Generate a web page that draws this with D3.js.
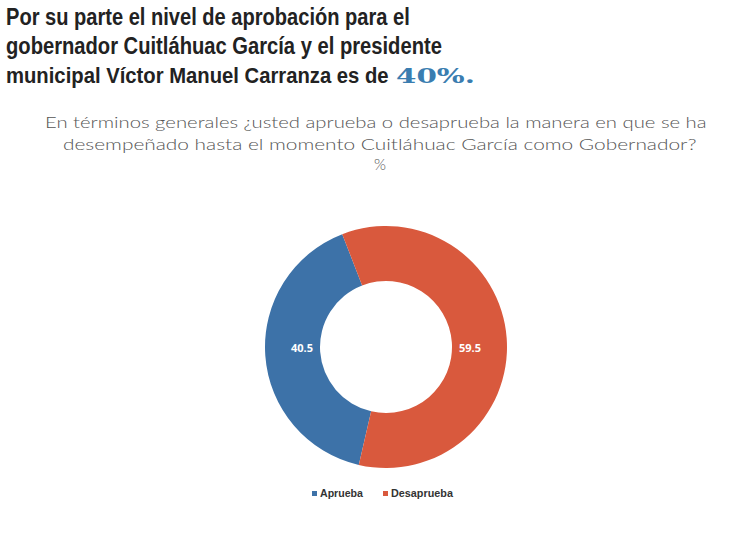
<!DOCTYPE html>
<html><head><meta charset="utf-8">
<script src="https://cdn.jsdelivr.net/npm/d3@7"></script>
<style>body{margin:0;background:#fff}svg{display:block}</style>
</head><body>
<script>
const categories = ["Aprueba", "Desaprueba"];
const values = [40.5, 59.5];
const colors = ["#3D72A8", "#D9593D"];
const titleLines = ["Por su parte el nivel de aprobación para el", "gobernador Cuitláhuac García y el presidente", "municipal Víctor Manuel Carranza es de"];
const highlight = "40%.";
const subtitleLines = ["En términos generales ¿usted aprueba o desaprueba la manera en que se ha", "desempeñado hasta el momento Cuitláhuac García como Gobernador?", "%"];

const W = 732, H = 549;
const svg = d3.select("body").append("svg").attr("width", W).attr("height", H);

// fit a text element horizontally to a target width using a scale transform
function fitWidth(sel, x, y, w) {
  const nat = sel.node().getComputedTextLength();
  sel.attr("x", 0).attr("y", 0)
    .attr("transform", `translate(${x},${y}) scale(${w / nat},1)`);
}

// Title
const tl = [{y: 25, w: 404}, {y: 54, w: 436}, {y: 83, w: 383}];
tl.forEach((d, i) => {
  const t = svg.append("text").text(titleLines[i])
    .attr("font-family", "Liberation Sans Narrow, Liberation Sans, sans-serif")
    .attr("font-weight", "bold")
    .attr("font-size", 23).attr("fill", "#222");
  fitWidth(t, 6, d.y, d.w);
});
const hl = svg.append("text").text(highlight)
  .attr("font-family", "DejaVu Serif, serif").attr("font-weight", "bold")
  .attr("font-size", 21).attr("fill", "#3A7DB0");
fitWidth(hl, 396, 83, 79);

// Subtitle
const sl = [{y: 128, w: 662, x: 376}, {y: 150, w: 634, x: 380}, {y: 170, w: 12, x: 380}];
sl.forEach((d, i) => {
  const t = svg.append("text").text(subtitleLines[i])
    .attr("font-family", "Lato, sans-serif").attr("font-weight", 300)
    .attr("font-size", 15).attr("fill", "#555");
  fitWidth(t, d.x - d.w / 2, d.y, d.w);
});

// Donut
const cx = 386, cy = 347, rOut = 121, rIn = 66;
const start = 193 * Math.PI / 180;
const pie = d3.pie().sort(null).startAngle(start).endAngle(start + 2 * Math.PI);
const arcs = pie(values);
const arc = d3.arc().innerRadius(rIn).outerRadius(rOut);
const g = svg.append("g").attr("transform", `translate(${cx},${cy})`);
g.selectAll("path").data(arcs).join("path")
  .attr("d", arc).attr("fill", (d, i) => colors[i]);
g.selectAll("text.lbl").data(arcs).join("text").attr("class", "lbl")
  .attr("x", (d, i) => i === 0 ? -84 : 84).attr("y", 5)
  .attr("text-anchor", "middle")
  .attr("font-family", "Open Sans, sans-serif").attr("font-weight", "bold")
  .attr("font-size", 11).attr("fill", "#fff")
  .text(d => d.data.toFixed(1));

// Legend
const leg = [{x: 312, tx: 320, w: 43}, {x: 383, tx: 391, w: 62}];
categories.forEach((c, i) => {
  svg.append("rect").attr("x", leg[i].x).attr("y", 491).attr("width", 5).attr("height", 5).attr("fill", colors[i]);
  const t = svg.append("text").text(c)
    .attr("font-family", "Liberation Sans Narrow, Liberation Sans, sans-serif").attr("font-weight", "bold")
    .attr("font-size", 11).attr("fill", "#333");
  fitWidth(t, leg[i].tx, 497, leg[i].w);
});
</script>
</body></html>
